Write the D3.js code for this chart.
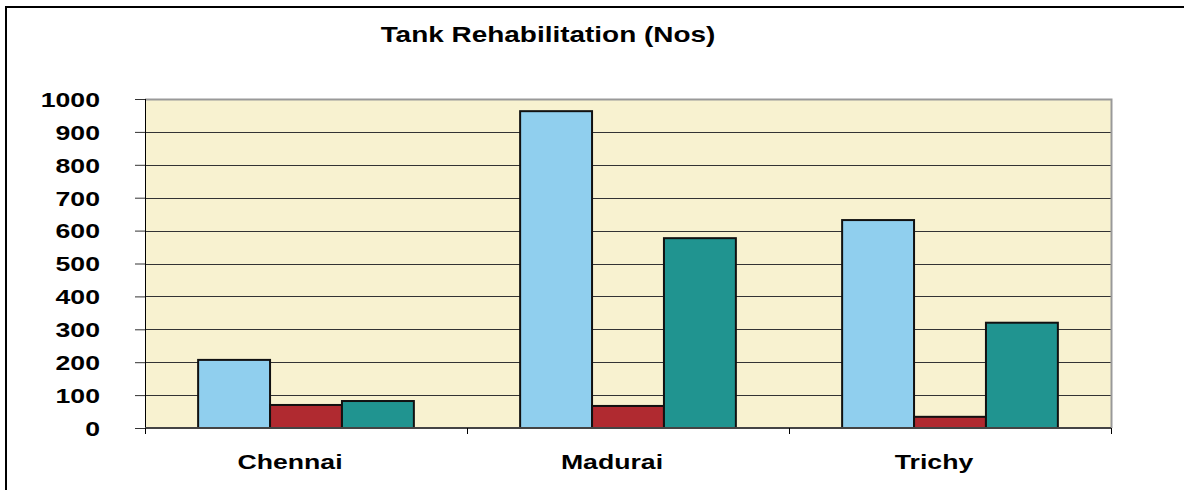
<!DOCTYPE html>
<html>
<head>
<meta charset="utf-8">
<script src="https://cdn.jsdelivr.net/npm/d3@7"></script>
<style>
  body { margin: 0; background: #fff; }
  text { font-family: "Liberation Sans", Arial, sans-serif; font-weight: bold; fill: #000; }
</style>
</head>
<body>
<div id="chart"></div>
<script>
// data
var districts = ["Chennai", "Madurai", "Trichy"];
var seriesNames = ["Series 1", "Series 2", "Series 3"];
var series1 = [207, 963, 632];
var series2 = [70, 67, 34];
var series3 = [82, 577, 320];
var yTicks = [0, 100, 200, 300, 400, 500, 600, 700, 800, 900, 1000];
var colors = ["#90CFEE", "#B02A30", "#209490"];

var W = 1184, H = 490;
var margin = { top: 99, right: 73, bottom: 62, left: 145 };
var width = W - margin.left - margin.right,
  height = H - margin.top - margin.bottom;
var stretch = 1.3; // text in the picture is widened

var rows = districts.map(function (d, i) {
  return { name: d, values: [series1[i], series2[i], series3[i]] };
});

var svg = d3.select("#chart").append("svg")
  .attr("width", W)
  .attr("height", H);

// outer frame
svg.append("rect")
  .attr("x", 6).attr("y", 7)
  .attr("width", W).attr("height", H)
  .attr("fill", "none")
  .attr("stroke", "#000")
  .attr("stroke-width", 2);

svg.append("text")
  .attr("transform", "translate(548,42) scale(" + stretch + ",1)")
  .attr("text-anchor", "middle")
  .style("font-size", "21.5px")
  .text("Tank Rehabilitation (Nos)");

var g = svg.append("g")
  .attr("transform", "translate(" + margin.left + "," + margin.top + ")");

var x0 = d3.scaleBand()
  .domain(districts)
  .range([0, width])
  .paddingInner(0.33)
  .paddingOuter(0.165);

var x1 = d3.scaleBand()
  .domain(seriesNames)
  .range([0, x0.bandwidth()]);

var y = d3.scaleLinear()
  .domain([0, 1000])
  .range([height, 0]);

g.append("rect")
  .attr("width", width).attr("height", height)
  .attr("fill", "#F8F2D0");

// gridlines
g.selectAll(".grid").data(yTicks.slice(1, -1)).enter()
  .append("line")
  .attr("x1", 0).attr("x2", width)
  .attr("y1", function (d) { return Math.round(y(d)) + 0.5; })
  .attr("y2", function (d) { return Math.round(y(d)) + 0.5; })
  .attr("stroke", "#333")
  .attr("stroke-width", 1.2);

// top + right of plot area
g.append("path")
  .attr("d", "M0,0.5H" + (width + 0.5) + "V" + height)
  .attr("fill", "none")
  .attr("stroke", "#999")
  .attr("stroke-width", 2);

var groups = g.selectAll(".grp").data(rows).enter()
  .append("g")
  .attr("transform", function (d) { return "translate(" + x0(d.name) + ",0)"; });

groups.selectAll("rect").data(function (d) {
  return d.values.map(function (v, i) { return { key: seriesNames[i], value: v, i: i }; });
}).enter()
  .append("rect")
  .attr("x", function (d) { return x1(d.key); })
  .attr("y", function (d) { return y(d.value); })
  .attr("width", x1.bandwidth())
  .attr("height", function (d) { return height - y(d.value); })
  .attr("fill", function (d) { return colors[d.i]; })
  .attr("stroke", "#111")
  .attr("stroke-width", 2);

// y axis
var yAxis = d3.axisLeft(y).tickValues(yTicks).tickFormat(d3.format("d")).tickSize(10);
var ya = g.append("g").call(yAxis);
ya.select(".domain").remove();
ya.append("line")
  .attr("x1", 0.5).attr("x2", 0.5)
  .attr("y1", 0).attr("y2", height + 6)
  .attr("stroke", "#000");
ya.selectAll(".tick line").attr("stroke", "#333");
ya.selectAll(".tick text")
  .attr("x", null).attr("dy", null)
  .attr("text-anchor", "end")
  .attr("dominant-baseline", "central")
  .attr("transform", "translate(-45,0) scale(" + stretch + ",1)")
  .style("font-size", "20.5px")
  .style("font-family", null);

// x axis
var xa = g.append("g").attr("transform", "translate(0," + height + ")");
xa.append("line")
  .attr("x1", 0).attr("x2", width)
  .attr("stroke", "#444").attr("stroke-width", 2);
xa.selectAll(".xt").data(d3.range(districts.length + 1)).enter()
  .append("line")
  .attr("x1", function (i) { return i * x0.step() + 0.5; })
  .attr("x2", function (i) { return i * x0.step() + 0.5; })
  .attr("y1", 0).attr("y2", 6)
  .attr("stroke", "#000");
xa.selectAll(".lbl").data(districts).enter()
  .append("text")
  .attr("transform", function (d) {
    return "translate(" + (x0(d) + x0.bandwidth() / 2 - 16) + ",41) scale(" + stretch + ",1)";
  })
  .attr("text-anchor", "middle")
  .style("font-size", "20.5px")
  .text(function (d) { return d; });
</script>
</body>
</html>
